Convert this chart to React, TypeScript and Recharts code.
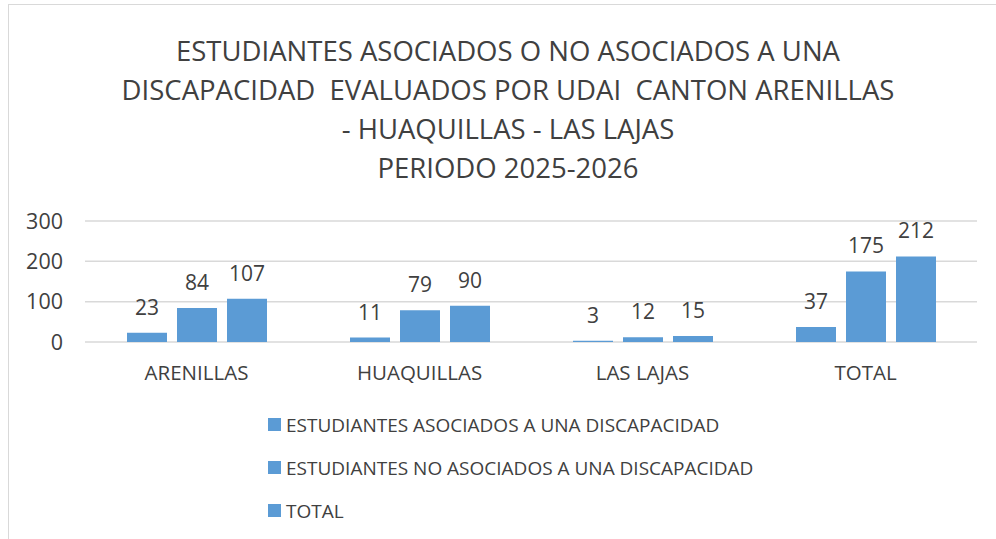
import React from 'react';
import { BarChart, Bar, XAxis, YAxis, CartesianGrid, LabelList } from 'recharts';

const cantones = ['ARENILLAS', 'HUAQUILLAS', 'LAS LAJAS', 'TOTAL'];
const asociados = [23, 11, 3, 37];
const noAsociados = [84, 79, 12, 175];
const totales = [107, 90, 15, 212];
const yTicks = [0, 100, 200, 300];

const seriesNames = [
  'ESTUDIANTES ASOCIADOS A UNA DISCAPACIDAD',
  'ESTUDIANTES NO ASOCIADOS A UNA DISCAPACIDAD',
  'TOTAL',
];

const titleLines = [
  'ESTUDIANTES ASOCIADOS O NO ASOCIADOS A UNA',
  'DISCAPACIDAD  EVALUADOS POR UDAI  CANTON ARENILLAS',
  '- HUAQUILLAS - LAS LAJAS',
  'PERIODO 2025-2026',
];

const data = cantones.map((c, i) => ({
  canton: c,
  asociados: asociados[i],
  noAsociados: noAsociados[i],
  total: totales[i],
}));

const BLUE = '#5B9BD5';
const TEXT = '#404040';
const FONT = '"Open Sans", sans-serif';

export default function App() {
  return (
    <div
      style={{
        position: 'absolute',
        left: 8,
        top: 4,
        width: 988,
        height: 535,
        borderLeft: '1px solid #d9d9d9',
        borderTop: '1px solid #d9d9d9',
        background: '#fff',
        fontFamily: FONT,
        color: TEXT,
        overflow: 'hidden',
      }}
    >
      <div
        style={{
          position: 'absolute',
          left: -1,
          top: 26,
          width: 1000,
          textAlign: 'center',
          fontSize: 27.5,
          lineHeight: '39px',
          whiteSpace: 'pre',
        }}
      >
        {titleLines.map((l) => (
          <div key={l}>{l}</div>
        ))}
      </div>

      <div style={{ position: 'absolute', left: -1, top: -1 }}>
        <BarChart
          width={988}
          height={535}
          data={data}
          margin={{ top: 217, right: 19, bottom: 157, left: 0 }}
          barCategoryGap={42}
          barGap={10}
        >
          <CartesianGrid vertical={false} stroke="#d9d9d9" strokeWidth={1.5} />
          <XAxis
            dataKey="canton"
            axisLine={false}
            tickLine={false}
            tickSize={0}
            tickMargin={23}
            height={40}
            tick={{ fill: TEXT, fontSize: 20.5, fontFamily: FONT }}
          />
          <YAxis
            domain={[0, 300]}
            ticks={yTicks}
            axisLine={false}
            tickLine={false}
            tickSize={0}
            tickMargin={22}
            width={77}
            tick={{ fill: TEXT, fontSize: 21.5, fontFamily: FONT }}
          />
          <Bar dataKey="asociados" name={seriesNames[0]} fill={BLUE} isAnimationActive={false}>
            <LabelList dataKey="asociados" position="top" offset={18} fill={TEXT} fontSize={21} fontFamily={FONT} />
          </Bar>
          <Bar dataKey="noAsociados" name={seriesNames[1]} fill={BLUE} isAnimationActive={false}>
            <LabelList dataKey="noAsociados" position="top" offset={18} fill={TEXT} fontSize={21} fontFamily={FONT} />
          </Bar>
          <Bar dataKey="total" name={seriesNames[2]} fill={BLUE} isAnimationActive={false}>
            <LabelList dataKey="total" position="top" offset={18} fill={TEXT} fontSize={21} fontFamily={FONT} />
          </Bar>
        </BarChart>
      </div>

      <div style={{ position: 'absolute', left: 259, top: 398 }}>
        {seriesNames.map((n) => (
          <div
            key={n}
            style={{ display: 'flex', alignItems: 'center', height: 43, fontSize: 19, whiteSpace: 'nowrap' }}
          >
            <span style={{ display: 'inline-block', width: 13, height: 13, background: BLUE, marginRight: 5 }} />
            {n}
          </div>
        ))}
      </div>
    </div>
  );
}
